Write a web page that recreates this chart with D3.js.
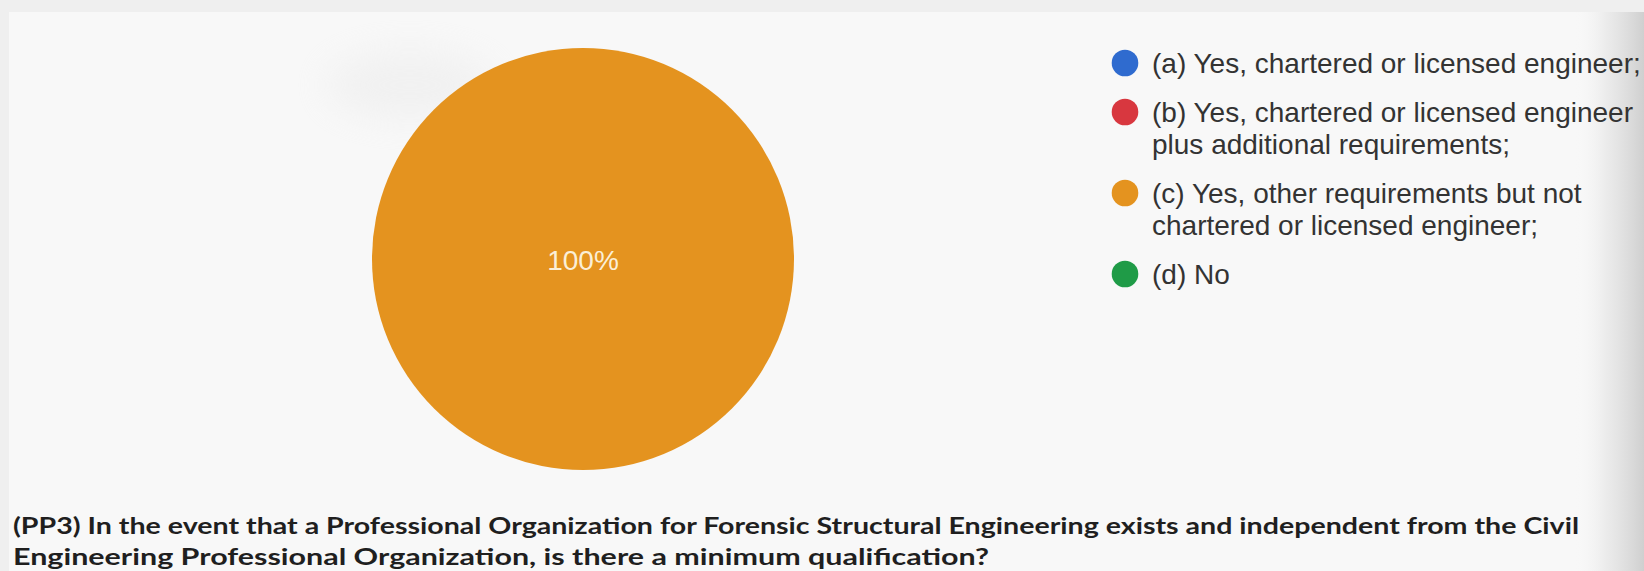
<!DOCTYPE html>
<html>
<head>
<meta charset="utf-8">
<script src="https://cdn.jsdelivr.net/npm/d3@7/dist/d3.min.js"></script>
<style>
  html, body { margin: 0; padding: 0; background: #efefef; }
  svg { display: block; }
</style>
</head>
<body>
<svg id="chart" width="1644" height="571"></svg>
<script>
// Survey answers for question PP3 and their share of responses (percent)
const categories = [
  "(a) Yes, chartered or licensed engineer;",
  "(b) Yes, chartered or licensed engineer plus additional requirements;",
  "(c) Yes, other requirements but not chartered or licensed engineer;",
  "(d) No"
];
const shares = [0, 0, 100, 0];
const sliceColors = ["#2f6bcf", "#d8373f", "#e4931f", "#1f9b47"];
const questionLines = [
  "(PP3) In the event that a Professional Organization for Forensic Structural Engineering exists and independent from the Civil",
  "Engineering Professional Organization, is there a minimum qualification?"
];

const W = 1644, H = 571;
const svg = d3.select("#chart");
const defs = svg.append("defs");

// paper page: light sheet inside a slightly darker scan border, shading off to the right
const shade = defs.append("linearGradient").attr("id", "edgeShade")
  .attr("x1", 0).attr("x2", 1).attr("y1", 0).attr("y2", 0);
shade.append("stop").attr("offset", "0%").attr("stop-color", "#f7f7f7").attr("stop-opacity", 0);
shade.append("stop").attr("offset", "45%").attr("stop-color", "#e6e6e6").attr("stop-opacity", 0.7);
shade.append("stop").attr("offset", "100%").attr("stop-color", "#cfcfcf").attr("stop-opacity", 1);

defs.append("filter").attr("id", "soft")
  .attr("x", "-50%").attr("y", "-50%").attr("width", "200%").attr("height", "200%")
  .append("feGaussianBlur").attr("stdDeviation", 18);

svg.append("rect").attr("x", 0).attr("y", 0).attr("width", W).attr("height", H).attr("fill", "#efefef");
svg.append("rect").attr("x", 9).attr("y", 12).attr("width", W - 9).attr("height", H - 12).attr("fill", "#f8f8f8");
svg.append("rect").attr("x", 1575).attr("y", 12).attr("width", W - 1575).attr("height", H - 12)
  .attr("fill", "url(#edgeShade)");
svg.append("ellipse").attr("cx", 410).attr("cy", 85).attr("rx", 85).attr("ry", 34)
  .attr("fill", "#e6e6e6").attr("opacity", 0.4).attr("filter", "url(#soft)");

// pie
const cx = 583, cy = 259, radius = 211;
const pie = d3.pie().sort(null).value(d => d.value);
const arc = d3.arc().innerRadius(0).outerRadius(radius);
const data = categories.map((c, i) => ({ label: c, value: shares[i], color: sliceColors[i] }));
const arcs = pie(data);

const pieG = svg.append("g").attr("transform", `translate(${cx},${cy})`);
pieG.selectAll("path.slice")
  .data(arcs.filter(d => d.data.value > 0))
  .join("path")
  .attr("class", "slice")
  .attr("d", arc)
  .attr("fill", d => d.data.color);

const fmt = d3.format(".0%");
const total = d3.sum(shares);
pieG.selectAll("text.pct")
  .data(arcs.filter(d => d.data.value > 0))
  .join("text")
  .attr("class", "pct")
  .attr("transform", d => {
    const full = d.endAngle - d.startAngle > 2 * Math.PI - 1e-6;
    const [x, y] = full ? [0, 0] : arc.centroid(d);
    return `translate(${x},${y})`;
  })
  .attr("dy", 11)
  .attr("text-anchor", "middle")
  .attr("font-family", "'Liberation Sans', Arial, sans-serif")
  .attr("font-size", 28)
  .attr("fill", "#fbefd6")
  .text(d => fmt(d.data.value / total));

// legend
const legendX = 1125, textX = 1152, firstBaseline = 73, lineH = 32, itemGap = 49, maxW = 500;
const legend = svg.append("g").attr("class", "legend");
let baseline = firstBaseline;
data.forEach((d, i) => {
  const t = legend.append("text")
    .attr("x", textX).attr("y", baseline)
    .attr("font-family", "'Liberation Sans', Arial, sans-serif")
    .attr("font-size", 28)
    .attr("fill", "#333333");
  // greedy word wrap against the legend column width
  const words = d.label.split(" ");
  let line = [], lineNo = 0;
  let tspan = t.append("tspan").attr("x", textX).attr("dy", 0);
  words.forEach(w => {
    line.push(w);
    tspan.text(line.join(" "));
    if (tspan.node().getComputedTextLength() > maxW && line.length > 1) {
      line.pop();
      tspan.text(line.join(" "));
      line = [w];
      lineNo++;
      tspan = t.append("tspan").attr("x", textX).attr("dy", lineH).text(w);
    }
  });
  legend.append("circle")
    .attr("cx", legendX).attr("cy", baseline - 10).attr("r", 13.3)
    .attr("fill", d.color);
  baseline += lineNo * lineH + itemGap;
});

// question caption
const qWidths = [1566, 976];
const qBaselines = [534, 565];
svg.append("g").selectAll("text")
  .data(questionLines)
  .join("text")
  .attr("x", 13)
  .attr("y", (d, i) => qBaselines[i])
  .attr("font-family", "Lato, 'Open Sans', sans-serif")
  .attr("font-weight", "bold")
  .attr("font-size", 22.5)
  .attr("fill", "#1f1f1f")
  .attr("textLength", (d, i) => qWidths[i])
  .attr("lengthAdjust", "spacingAndGlyphs")
  .text(d => d);
</script>
</body>
</html>
